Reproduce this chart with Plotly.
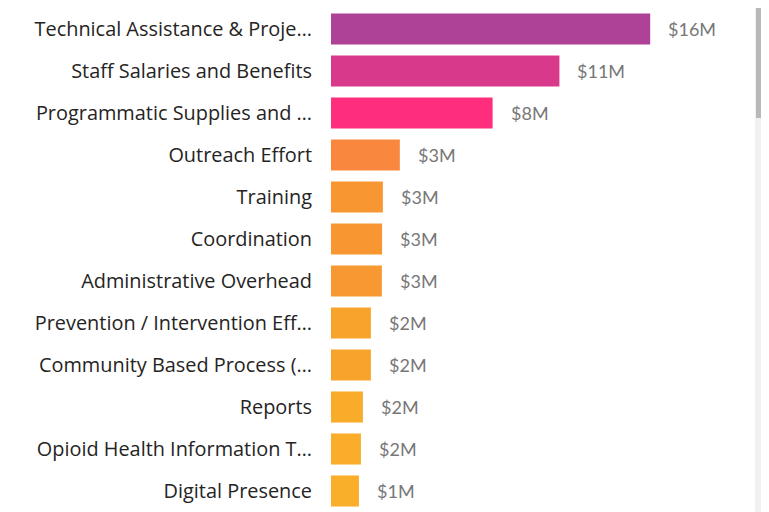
import math
import plotly.graph_objects as go

categories = [
    "Technical Assistance & Proje…",
    "Staff Salaries and Benefits",
    "Programmatic Supplies and …",
    "Outreach Effort",
    "Training",
    "Coordination",
    "Administrative Overhead",
    "Prevention / Intervention Eff…",
    "Community Based Process (…",
    "Reports",
    "Opioid Health Information T…",
    "Digital Presence",
]
values_m = [16.0, 11.45, 8.1, 3.45, 2.6, 2.56, 2.55, 2.0, 2.0, 1.6, 1.5, 1.4]
bar_colors = [
    "#AD4297", "#D9398A", "#FE2E7D", "#F9873E", "#F89732", "#F89732",
    "#F89833", "#F8A42C", "#F8A42C", "#F9AB2A", "#F9AD2A", "#F9AF29",
]
value_labels = [f"${math.floor(v + 0.5)}M" for v in values_m]

# The page body adds an 8px offset, so the figure is sized/placed to compensate.
W, H = 761, 504
L, R, T, B = 323, 39, 0, 0
PW = W - L - R

fig = go.Figure(
    go.Bar(
        x=values_m,
        y=categories,
        orientation="h",
        marker=dict(color=bar_colors, line=dict(width=0)),
        hoverinfo="skip",
    )
)

for cat, v, lab in zip(categories, values_m, value_labels):
    fig.add_annotation(
        x=v, y=cat, text=lab, showarrow=False, xanchor="left", yanchor="middle",
        xshift=16, font=dict(family="Lato, sans-serif", size=18, color="#777777"),
    )

# scrollbar imitation (track + thumb)
def px_x(p):
    return (p - L) / PW

fig.add_shape(type="rect", xref="paper", yref="paper", x0=px_x(747), x1=px_x(761),
              y0=-0.05, y1=1.05, fillcolor="#F0F0F0", line=dict(width=0), layer="above")
fig.add_shape(type="rect", xref="paper", yref="paper", x0=px_x(748), x1=px_x(759),
              y0=1 - 110 / (H - T - B), y1=1.05, fillcolor="#B9B9B9", line=dict(width=0), layer="above")

fig.update_layout(
    width=W,
    height=H,
    margin=dict(l=L, r=R, t=T, b=B, autoexpand=False),
    paper_bgcolor="white",
    plot_bgcolor="white",
    bargap=0.26,
    showlegend=False,
    xaxis=dict(range=[0, 20], visible=False, fixedrange=True),
    yaxis=dict(
        autorange="reversed",
        showgrid=False,
        zeroline=False,
        showline=False,
        ticks="",
        automargin=False,
        ticklabelstandoff=18,
        tickfont=dict(family="Open Sans, sans-serif", size=19.9, color="#252423"),
        fixedrange=True,
    ),
)

fig.write_html("out.html", config={"displayModeBar": False})
